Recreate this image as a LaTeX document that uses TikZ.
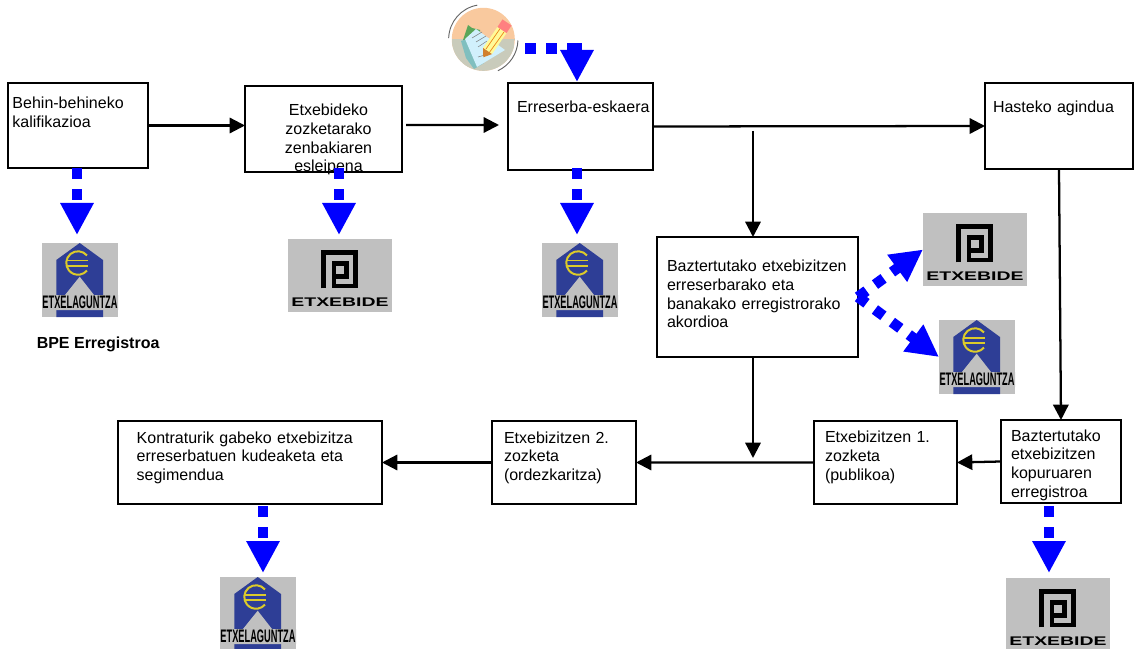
\documentclass[tikz,border=0pt]{standalone}
\usepackage{fontspec}
\setmainfont{Liberation Sans}
\usepackage{xcolor}
\usepackage{tikz}
\usetikzlibrary{arrows.meta,positioning}

\definecolor{dashblue}{HTML}{0000FF}
\definecolor{logogray}{HTML}{C0C0C0}
\definecolor{houseblue}{HTML}{2E3E96}
\definecolor{euroyellow}{HTML}{DCCB2A}
\definecolor{notepeach}{HTML}{F9C99E}
\definecolor{notegray}{HTML}{C9CBBB}

\def\px{0.75pt}

\tikzset{
    box/.style={rectangle, draw, line width=1.3pt, inner sep=0pt, outer sep=0pt, anchor=north west, align=left, font=\fontsize{12}{14}\selectfont},
    boxsize/.style n args={4}{text width=#1*\px, text height=#3*\px, text depth=(#2-#3)*\px,
        execute at begin node={\pgfmathsetlength\leftskip{#4*\px}}},
    arrow/.style={line width=1.7pt, -{Triangle[length=11.5pt,width=11.5pt]}},
    dasharrow/.style={draw=dashblue, line width=7.9pt, dash pattern=on 7.9pt off 7.9pt,
        -{Triangle[length=24pt,width=23.5pt]}},
    logobg/.style={rectangle, fill=logogray, inner sep=0pt, outer sep=0pt, anchor=north west},
    etxebide/.pic={
        \node[logobg, minimum width=104*\px, minimum height=73*\px] (-bg) at (0,0) {};
        \draw[line width=3.6pt, miter limit=10] (35.5,49.3) -- (35.5,13.7) -- (67.7,13.7) -- (67.7,47) -- (46,47) -- (46,24.2) -- (58.2,24.2) -- (58.2,37.3) -- (48,37.3);
        \node[anchor=base, inner sep=0pt, font=\fontsize{9.4}{10}\selectfont\bfseries] (-name) at (52,67.7) {\scalebox{1.55}[1]{ETXEBIDE}};
    },
    etxelaguntza/.pic={
        \node[logobg, minimum width=76*\px, minimum height=74*\px] (-bg) at (0,0) {};
        \fill[houseblue] (37.7,0) -- (61,17) -- (61,74) -- (14.3,74) -- (14.3,17) -- cycle;
        \fill[logogray] (37.7,33.7) -- (52,52) -- (0,52) -- (0,67) -- (76,67) -- (76,52) -- (23,52) -- cycle;
        \draw[euroyellow, line width=1.5pt] (36,20) ++(40:8.8pt) arc[start angle=40, end angle=320, radius=8.8pt];
        \draw[euroyellow, line width=1.2pt] (24.3,17.7) -- (46,17.7) (24.3,23) -- (46,23);
        \node[anchor=base, inner sep=0pt, font=\fontsize{13.6}{14}\selectfont\bfseries] (-name) at (38,65.3) {\scalebox{.51}[1]{ETXELAGUNTZA}};
    }
}

\begin{document}
\begin{tikzpicture}[x=0.75pt, y=-0.75pt]
\useasboundingbox (0,0) rectangle (1136,649);

% Top row
\node[box, boxsize={140}{85}{26}{4.5}] (behin) at (8,83) {Behin-behineko\\kalifikazioa};
\node[box, boxsize={157}{86}{29.7}{0}, execute at begin node={\leftskip=7.5pt plus 1fil\rightskip=0pt plus 1fil\parfillskip=0pt}] (zenbaki) at (245,86) {Etxebideko\\zozketarako\\zenbakiaren\\esleipena};
\node[box, boxsize={145}{87}{30}{9}] (erreserba) at (508,83) {Erreserba-eskaera};
\node[box, boxsize={148}{86}{30}{8}] (hasteko) at (985,83) {Hasteko agindua};

% Middle
\node[box, boxsize={201}{120}{34.7}{10}] (akordio) at (657,237) {Baztertutako etxebizitzen\\erreserbarako eta\\banakako erregistrorako\\akordioa};

% Bottom row
\node[box, boxsize={120}{83}{21}{10}] (kopuru) at (1001,420) {Baztertutako\\etxebizitzen\\kopuruaren\\erregistroa};
\node[box, boxsize={143}{83}{21.7}{11}] (zozketaA) at (814,421) {Etxebizitzen 1.\\zozketa\\(publikoa)};
\node[box, boxsize={144}{83}{22}{12}] (zozketaB) at (492,421) {Etxebizitzen 2.\\zozketa\\(ordezkaritza)};
\node[box, boxsize={264}{83}{22}{18.7}] (kontratu) at (118,421) {Kontraturik gabeko etxebizitza\\erreserbatuen kudeaketa eta\\segimendua};

\node[anchor=base west, inner sep=0pt, font=\fontsize{12}{14}\selectfont\bfseries] (bpe) at (36.5,348) {BPE Erregistroa};

% Logos
\pic (laguntzaA) at (42,243) {etxelaguntza};
\pic (bideA) at (288,239) {etxebide};
\pic (laguntzaB) at (542,243) {etxelaguntza};
\pic (bideB) at (923,213) {etxebide};
\pic (laguntzaC) at (939,320) {etxelaguntza};
\pic (bideC) at (1006,578) {etxebide};
\pic (laguntzaD) at (220,577) {etxelaguntza};

% Note icon
\node[circle, minimum size=63*\px, inner sep=0pt, fill=notepeach,
    path picture={\fill[notegray] (path picture bounding box.west) rectangle (path picture bounding box.south east);}] (icon) at (483.3,39.3) {};
\draw[gray!80!black, line width=0.7pt] ([shift={(100:26pt)}]icon.center) arc[start angle=100, end angle=178, radius=26pt];
\draw[gray!80!black, line width=0.7pt] ([shift={(-2:26pt)}]icon.center) arc[start angle=-2, end angle=-65, radius=26pt];
\begin{scope}[shift={(430,0)}]
\fill[green!30!gray] (33,40) -- (38,25) -- (42,28) -- (50,30) -- (50,42) -- cycle;
\fill[teal!50!white] (31,41) -- (36,58) -- (44,69) -- (54,63) -- (40,38) -- cycle;
\fill[cyan!18!white] (35,39) -- (46,29) -- (75,50) -- (47,67) -- cycle;
\draw[gray, line width=0.4pt] (42,38) -- (52,32) (46,42) -- (56,36) (48,47) -- (57,41) (48,57) -- (55,55);
\draw[yellow!40!white, line width=8.2pt] (57.5,51) -- (72,30);
\draw[orange!70!brown, line width=0.5pt] (59,53) -- (74,32) (56,49) -- (70.5,28);
\draw[red!50!white, line width=8.2pt] (72,30) -- (77,22.5);
\fill[brown!70!orange] (53.3,57.3) -- (62,54.1) -- (53,47.9) -- cycle;
\end{scope}

% Arrows
\coordinate (split) at (753,131);
\coordinate (merge) at (753,458);
\draw[arrow] (behin.east) -- (behin.east -| zenbaki.west);
\draw[arrow, shorten <=3pt, shorten >=6.75pt] ([yshift=4*\px]zenbaki.east) -- ([yshift=1.5*\px]erreserba.west);
\draw[arrow] (erreserba.east) -- (hasteko.west);
\draw[arrow] (split) -- (split |- akordio.north);
\draw[arrow] (hasteko.south) -- (kopuru.north);
\draw[arrow] (split |- akordio.south) -- (merge);
\draw[arrow] (zozketaA.west) -- (zozketaB.east);
\draw[arrow] (kopuru.west) -- (zozketaA.east);
\draw[arrow] (zozketaB.west) -- (kontratu.east);

% Blue dashed arrows
\draw[dasharrow, shorten >=6pt] ([xshift=-1*\px]behin.south) -- ([xshift=-3*\px]laguntzaA-bg.north);
\draw[dasharrow, shorten <=-3pt, shorten >=3pt] ([xshift=15.5*\px]zenbaki.south) -- ([xshift=-1*\px]bideA-bg.north);
\draw[dasharrow, shorten <=-1.5pt, shorten >=6pt] ([xshift=-3.5*\px]erreserba.south) -- ([xshift=-3*\px]laguntzaB-bg.north);
\draw[dasharrow, shorten <=1.5pt, shorten >=3pt] ([xshift=13*\px]kontratu.south) -- ([xshift=5*\px]laguntzaD-bg.north);
\draw[dasharrow, shorten <=2.25pt, shorten >=3.75pt] ([xshift=-12*\px]kopuru.south) -- ([xshift=-9*\px]bideC-bg.north);
\draw[dasharrow] (akordio.east) -- (bideB-bg.west);
\draw[dasharrow] (akordio.east) -- (laguntzaC-bg.west);
\draw[dasharrow, dash pattern=on 7.9pt off 7.9pt on 7.9pt off 7.9pt on 20pt off 20pt, shorten <=7.5pt, shorten >=0.75pt] ([yshift=-9*\px]icon.east) -| ([xshift=-3.5*\px]erreserba.north);

\end{tikzpicture}
\end{document}
